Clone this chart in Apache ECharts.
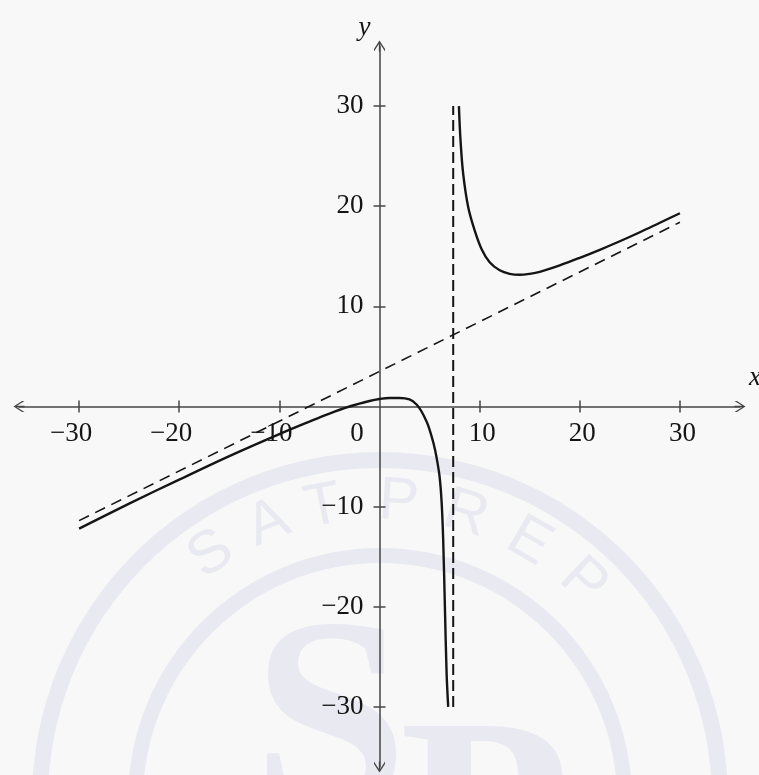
<!DOCTYPE html>
<html>
<head>
<meta charset="utf-8">
<script src="https://cdn.jsdelivr.net/npm/echarts@6/dist/echarts.min.js"></script>
<style>
html,body{margin:0;padding:0;background:#f8f8f8;}
#chart{width:759px;height:775px;}
</style>
</head>
<body>
<div id="chart"></div>
<script>
// ---- data ----
const xTickValues = [-30, -20, -10, 10, 20, 30];
const xLabelValues = [-30, -20, -10, 0, 10, 20, 30];
const yTickValues = [-30, -20, -10, 10, 20, 30];

const leftBranchX = [-30, -25, -20, -15, -10, -7, -5, -3, -1, 0, 1, 2, 3, 3.7, 4.2, 4.7, 5.0, 5.4, 5.7, 6.0, 6.2, 6.36, 6.53, 6.7, 6.86];
const leftBranchY = [-12.2, -9.7, -7.3, -4.95, -2.75, -1.5, -0.7, 0.0, 0.55, 0.75, 0.85, 0.85, 0.7, 0.2, -0.5, -1.5, -2.3, -3.7, -5.1, -7.0, -9.5, -13.3, -20, -26.6, -30];

const rightBranchX = [7.93, 8.09, 8.36, 8.86, 9.5, 10.2, 11.0, 12.0, 13.0, 14.0, 15.0, 16.0, 18, 20, 22, 24, 26, 28, 30];
const rightBranchY = [30, 26.6, 23.2, 19.9, 17.6, 15.7, 14.4, 13.6, 13.25, 13.15, 13.25, 13.45, 14.1, 14.85, 15.65, 16.5, 17.4, 18.35, 19.3];

const obliqueAsymX = [-30, 30];
const obliqueAsymY = [-11.4, 18.4];

const verticalAsymX = [7.36, 7.36];
const verticalAsymY = [-30, 30];

const axisRange = [-36, 36];
const axisNameX = 'x';
const axisNameY = 'y';
const watermarkText = 'SATPREP';
const watermarkLogo = ['S', 'P'];

// ---- build ----
const zip = (xs, ys) => xs.map((x, i) => [x, ys[i]]);
const minus = v => (v < 0 ? '\u2212' + Math.abs(v) : String(v));

const AXIS_COLOR = '#454545';
const INK = '#151515';
const FONT = 'Liberation Serif';
const FS = 27;
const WM = '#e9e9f1';

const GRID = { left: 19, top: 46, width: 721, height: 721 };
// place each axis line at the other axis' zero
const zeroFrac = (0 - axisRange[0]) / (axisRange[1] - axisRange[0]);
const xAxisOffset = -GRID.height * zeroFrac;
const yAxisOffset = -GRID.width * zeroFrac;

const arrowPath = 'path://M5,0 L10,7.8 L10,10 L5.6,3.1 L5.6,10 L4.4,10 L4.4,3.1 L0,10 L0,7.8 Z';
const axisLineStyle = { color: AXIS_COLOR, width: 1.5 };
const baseAxis = { type: 'value', min: axisRange[0], max: axisRange[1], splitLine: { show: false } };

// watermark graphic (decoration behind the chart)
const wmCx = 380, wmCy = 800;
const letterAngles = [-34.5, -22, -11, 3.6, 16.7, 30, 43];
const wmElements = [
  { type: 'ring', shape: { cx: wmCx, cy: wmCy, r: 348, r0: 332 }, style: { fill: WM }, z: -10, silent: true },
  { type: 'ring', shape: { cx: wmCx, cy: wmCy, r: 252, r0: 237 }, style: { fill: WM }, z: -10, silent: true },
  { type: 'text', silent: true, z: -10, x: 330, y: 737,
    style: { text: watermarkLogo[0], fill: WM, font: 'bold 280px "Liberation Serif"', align: 'center', verticalAlign: 'middle' } },
  { type: 'text', silent: true, z: -10, x: 485, y: 837,
    style: { text: watermarkLogo[1], fill: WM, font: 'bold 280px "Liberation Serif"', align: 'center', verticalAlign: 'middle' } }
];
watermarkText.split('').forEach((ch, i) => {
  const a = letterAngles[i] * Math.PI / 180;
  const r = 298;
  wmElements.push({
    type: 'text', silent: true, z: -10,
    x: wmCx + r * Math.sin(a), y: wmCy - r * Math.cos(a),
    rotation: -a,
    style: { text: ch, fill: WM, font: '60px "Liberation Sans"', align: 'center', verticalAlign: 'middle' }
  });
});

const chart = echarts.init(document.getElementById('chart'), null, { renderer: 'canvas' });
chart.setOption({
  animation: false,
  backgroundColor: '#f8f8f8',
  graphic: { elements: wmElements },
  grid: Object.assign({ containLabel: false, outerBoundsMode: 'none' }, GRID),
  xAxis: [
    Object.assign({}, baseAxis, {
      position: 'bottom',
      offset: xAxisOffset,
      name: axisNameX,
      nameLocation: 'end',
      nameGap: 9,
      nameTextStyle: { fontFamily: FONT, fontStyle: 'italic', fontSize: FS, color: INK, align: 'left', verticalAlign: 'bottom', padding: [0, 0, 15, 0] },
      axisLine: { onZero: false, lineStyle: axisLineStyle, symbol: [arrowPath, arrowPath], symbolSize: [13, 11] },
      axisTick: { show: true, inside: false, length: 6, customValues: xTickValues, lineStyle: axisLineStyle },
      axisLabel: {
        customValues: xLabelValues,
        margin: 14,
        fontFamily: FONT, fontSize: FS, color: INK,
        formatter: v => {
          if (v === 0) return '{t|0}{s0| }';
          if (v < 0) return '{t|' + minus(v) + '}{sn| }';
          return '{sp| }{t|' + v + '}';
        },
        rich: {
          t: { fontFamily: FONT, fontSize: FS, color: INK },
          s0: { width: 45, fontSize: FS },
          sn: { width: 16, fontSize: FS },
          sp: { width: 5, fontSize: FS }
        }
      }
    }),
    Object.assign({}, baseAxis, {
      position: 'bottom',
      offset: xAxisOffset,
      axisLine: { onZero: false, show: false },
      axisTick: { show: true, inside: true, length: 6, customValues: xTickValues, lineStyle: axisLineStyle },
      axisLabel: { show: false }
    })
  ],
  yAxis: [
    Object.assign({}, baseAxis, {
      position: 'left',
      offset: yAxisOffset,
      name: axisNameY,
      nameLocation: 'end',
      nameGap: 5,
      nameTextStyle: { fontFamily: FONT, fontStyle: 'italic', fontSize: FS, color: INK, align: 'right', verticalAlign: 'bottom', padding: [0, 9, 0, 0] },
      axisLine: { onZero: false, lineStyle: axisLineStyle, symbol: [arrowPath, arrowPath], symbolSize: [13, 11] },
      axisTick: { show: true, inside: false, length: 6, customValues: yTickValues, lineStyle: axisLineStyle },
      axisLabel: { customValues: yTickValues, margin: 16, fontFamily: FONT, fontSize: FS, color: INK, formatter: v => minus(v) }
    }),
    Object.assign({}, baseAxis, {
      position: 'left',
      offset: yAxisOffset,
      axisLine: { onZero: false, show: false },
      axisTick: { show: true, inside: true, length: 6, customValues: yTickValues, lineStyle: axisLineStyle },
      axisLabel: { show: false }
    })
  ],
  series: [
    {
      type: 'line', name: 'oblique asymptote', data: zip(obliqueAsymX, obliqueAsymY),
      showSymbol: false, silent: true,
      lineStyle: { color: INK, width: 1.6, type: [11, 7] }
    },
    {
      type: 'line', name: 'vertical asymptote', data: zip(verticalAsymX, verticalAsymY),
      showSymbol: false, silent: true,
      lineStyle: { color: INK, width: 2, type: [11, 5] }
    },
    {
      type: 'line', name: 'left branch', data: zip(leftBranchX, leftBranchY),
      smooth: 0.35, showSymbol: false, silent: true,
      lineStyle: { color: INK, width: 2.4 }
    },
    {
      type: 'line', name: 'right branch', data: zip(rightBranchX, rightBranchY),
      smooth: 0.35, showSymbol: false, silent: true,
      lineStyle: { color: INK, width: 2.4 }
    }
  ]
});
</script>
</body>
</html>
